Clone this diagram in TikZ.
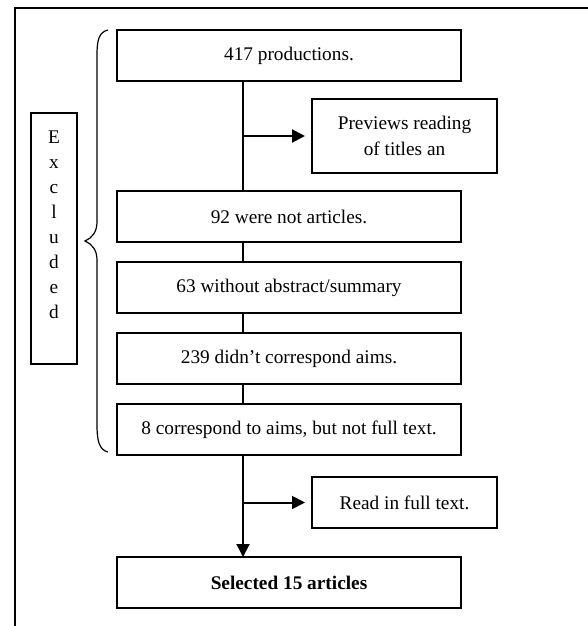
\documentclass[tikz,border=0pt]{standalone}
\usepackage{fontspec}
\setmainfont{Liberation Serif}
\usetikzlibrary{arrows.meta,positioning}

\begin{document}
\begin{tikzpicture}[x=1pt,y=-1pt,>={Triangle[length=13pt,width=13pt]},line width=2pt]
  \tikzstyle{stage}=[rectangle,draw=black,line width=2pt,minimum width=344pt,minimum height=51pt,inner sep=0pt,outer sep=0pt,font=\fontsize{19.3}{25}\selectfont]
  \tikzstyle{side}=[rectangle,draw=black,line width=2pt,minimum width=185pt,minimum height=51pt,inner sep=0pt,outer sep=0pt,align=center,font=\fontsize{19.3}{26}\selectfont]
  \tikzstyle{every path}=[black]

  \useasboundingbox (0,0) rectangle (588,626);
  % outer frame, cut off on the right and below
  \draw [line width=1.5pt] (15,626) -- (15,8) -- (588,8);

  % main column
  \node [stage] (p417) at (289,55.5) {417 productions.};
  \node [stage] (n92) [below=110pt of p417] {92 were not articles.};
  \node [stage] (n63) [below=20pt of n92] {63 without abstract/summary};
  \node [stage] (n239) [below=20pt of n63] {239 didn’t correspond aims.};
  \node [stage] (n8) [below=20pt of n239] {8 correspond to aims, but not full text.};
  \node [stage,font=\fontsize{19.3}{25}\selectfont\bfseries] (sel) [below=102pt of n8] {Selected 15 articles};

  % side boxes
  \node [side,minimum height=74pt] (prev) at (404.5,136) {Previews reading\\of titles an};
  \node [side] (read) at (404.5,502.5) {Read in full text.};

  % excluded
  \node [rectangle,draw=black,line width=2pt,minimum width=46pt,minimum height=251pt,inner sep=0pt,outer sep=0pt] (excl) at (54,238.5) {};
  \node [align=center,inner sep=0pt,font=\fontsize{19.3}{25}\selectfont] (exclt) at (54,225) {E\\x\\c\\l\\u\\d\\e\\d};

  % connectors
  \coordinate (sp) at (243,0);
  \draw (p417.south -| sp) -- (n92.north -| sp);
  \draw [->,shorten >=7pt] (prev.west -| sp) -- (prev.west);
  \draw (n92.south -| sp) -- (n63.north -| sp);
  \draw (n63.south -| sp) -- (n239.north -| sp);
  \draw (n239.south -| sp) -- (n8.north -| sp);
  \draw [->] (n8.south -| sp) -- (sel.north -| sp);
  \draw [->,shorten >=7pt] (read.west -| sp) -- (read.west);

  % brace
  \draw [line width=1.2pt] (108,30) .. controls (99,32) and (97,40) .. (97,55) -- (97,222)
    .. controls (97,232) and (92,238) .. (85,241) .. controls (92,244) and (97,250) .. (97,260)
    -- (97,425) .. controls (97,440) and (99,450) .. (108,452);
\end{tikzpicture}
\end{document}
